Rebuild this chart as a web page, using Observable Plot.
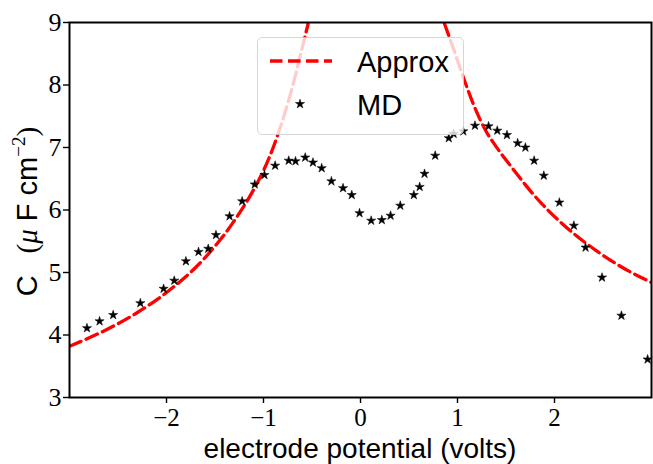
<!DOCTYPE html>
<html>
<head>
<meta charset="utf-8">
<script src="https://cdn.jsdelivr.net/npm/d3@7"></script>
<script src="https://cdn.jsdelivr.net/npm/@observablehq/plot@0.6"></script>
<style>
  html, body { margin: 0; padding: 0; background: white; }
</style>
</head>
<body>
<div id="chart"></div>
<script>
// ---- data ----
const xTicks = [-2, -1, 0, 1, 2];
const yTicks = [3, 4, 5, 6, 7, 8, 9];

// MD simulation points (electrode potential, capacitance)
const mdX = [-2.82, -2.69, -2.55, -2.27, -2.03, -1.92, -1.80, -1.67, -1.57, -1.49,
             -1.35, -1.22, -1.09, -0.99, -0.88, -0.74, -0.67, -0.57, -0.49, -0.40,
             -0.30, -0.18, -0.09, -0.01, 0.11, 0.22, 0.31, 0.41, 0.55, 0.61,
             0.66, 0.77, 0.91, 0.96, 1.06, 1.18, 1.32, 1.41, 1.51, 1.62,
             1.70, 1.79, 1.89, 2.05, 2.20, 2.32, 2.49, 2.69, 2.96];
const mdC = [4.11, 4.22, 4.32, 4.51, 4.74, 4.87, 5.18, 5.33, 5.38, 5.60,
             5.90, 6.14, 6.41, 6.56, 6.71, 6.79, 6.78, 6.84, 6.76, 6.67,
             6.46, 6.35, 6.24, 5.95, 5.83, 5.84, 5.91, 6.07, 6.24, 6.37,
             6.58, 6.87, 7.15, 7.22, 7.26, 7.35, 7.34, 7.27, 7.20, 7.07,
             7.00, 6.79, 6.55, 6.12, 5.75, 5.40, 4.92, 4.31, 3.61];

// Approx curve, left branch
const approxLeftX = [-3.00, -2.60, -2.30, -2.00, -1.70, -1.50, -1.30, -1.10, -1.00, -0.90,
                     -0.80, -0.70, -0.60, -0.54];
const approxLeftC = [3.82, 4.10, 4.36, 4.68, 5.08, 5.42, 5.83, 6.33, 6.63, 7.00,
                     7.45, 7.98, 8.60, 8.98];
// Approx curve, right branch
const approxRightX = [0.866, 0.97, 1.07, 1.175, 1.28, 1.40, 1.55, 1.81, 2.08, 2.43, 2.70, 3.00];
const approxRightC = [8.98, 8.53, 8.08, 7.65, 7.30, 7.01, 6.70, 6.20, 5.78, 5.35, 5.08, 4.84];

// ---- build tables ----
const md = mdX.map((x, i) => ({x, c: mdC[i]}));
const approx = [
  ...approxLeftX.map((x, i) => ({x, c: approxLeftC[i], branch: "left"})),
  ...approxRightX.map((x, i) => ({x, c: approxRightC[i], branch: "right"}))
];

const SANS = "'Liberation Sans', Arial, sans-serif";
const SERIF = "'Liberation Serif', 'DejaVu Serif', serif";
const fmt = d => (d < 0 ? "\u2212" + (-d) : String(d));

const W = 653, H = 464;
const mL = 69, mR = 2, mT = 22, mB = 67;
const STAR_R = 2.9;

const plot = Plot.plot({
  width: W,
  height: H,
  marginLeft: mL,
  marginRight: mR,
  marginTop: mT,
  marginBottom: mB,
  style: {background: "white", color: "black", fontFamily: SERIF, fontSize: "26px", overflow: "visible"},
  x: {domain: [-3, 3]},
  y: {domain: [3, 9]},
  marks: [
    Plot.line(approx, {
      x: "x", y: "c", z: "branch", stroke: "#ff0000", strokeWidth: 3.3,
      strokeDasharray: "12.5,5.5", curve: "monotone-x", clip: true
    }),
    Plot.dot(md, {
      x: "x", y: "c", symbol: "star", r: STAR_R, fill: "black", stroke: "black", strokeWidth: 0.5
    }),
    Plot.axisX({
      ticks: xTicks, tickSize: 6, tickPadding: 5, tickFormat: fmt,
      fontSize: 25, fontFamily: SERIF, label: null, strokeWidth: 1.4
    }),
    Plot.axisY({
      ticks: yTicks, tickSize: 6, tickPadding: 2, tickFormat: fmt,
      fontSize: 26, fontFamily: SERIF, label: null, strokeWidth: 1.4
    }),
    Plot.frame({stroke: "black", strokeWidth: 2})
  ]
});

document.getElementById("chart").appendChild(plot);

// ---- overlay: axis titles and legend ----
const svg = d3.select(plot);
const plotCx = mL + (W - mL - mR) / 2;
const plotCy = mT + (H - mT - mB) / 2;

svg.append("text")
  .attr("x", plotCx).attr("y", 458)
  .attr("text-anchor", "middle")
  .attr("font-family", SANS).attr("font-size", 28).attr("fill", "black")
  .text("electrode potential (volts)");

const yl = svg.append("text")
  .attr("transform", `translate(37,${plotCy + 2}) rotate(-90)`)
  .attr("text-anchor", "middle")
  .attr("font-size", 29).attr("fill", "black");
yl.append("tspan").attr("font-family", SANS).text("C");
yl.append("tspan").attr("font-family", SERIF).text("\u2002 (");
yl.append("tspan").attr("font-family", SERIF).attr("font-style", "italic").text("\u03bc");
yl.append("tspan").attr("font-family", SANS).text(" F cm");
yl.append("tspan").attr("font-family", SERIF).attr("font-size", 19).attr("dy", -12).text("\u22122");
yl.append("tspan").attr("font-family", SERIF).attr("dy", 12).text(")");

// legend
const lg = svg.append("g").attr("text-anchor", "start");
lg.append("rect")
  .attr("x", 257.5).attr("y", 37.5).attr("width", 206).attr("height", 97).attr("rx", 5)
  .attr("fill", "white").attr("fill-opacity", 0.8)
  .attr("stroke", "#cccccc").attr("stroke-opacity", 0.8).attr("stroke-width", 1);
lg.append("line")
  .attr("x1", 270).attr("x2", 332).attr("y1", 61).attr("y2", 61)
  .attr("stroke", "#ff0000").attr("stroke-width", 3.3).attr("stroke-dasharray", "12.5,5.5");
lg.append("path")
  .attr("transform", "translate(300,104)")
  .attr("d", d3.symbol(d3.symbolStar, Math.PI * STAR_R * STAR_R)())
  .attr("fill", "black").attr("stroke", "black").attr("stroke-width", 0.5);
lg.append("text").attr("x", 357).attr("y", 72).attr("text-anchor", "start")
  .attr("font-family", SANS).attr("font-size", 29).attr("fill", "black").text("Approx");
lg.append("text").attr("x", 357).attr("y", 115).attr("text-anchor", "start")
  .attr("font-family", SANS).attr("font-size", 29).attr("fill", "black").text("MD");
</script>
</body>
</html>
